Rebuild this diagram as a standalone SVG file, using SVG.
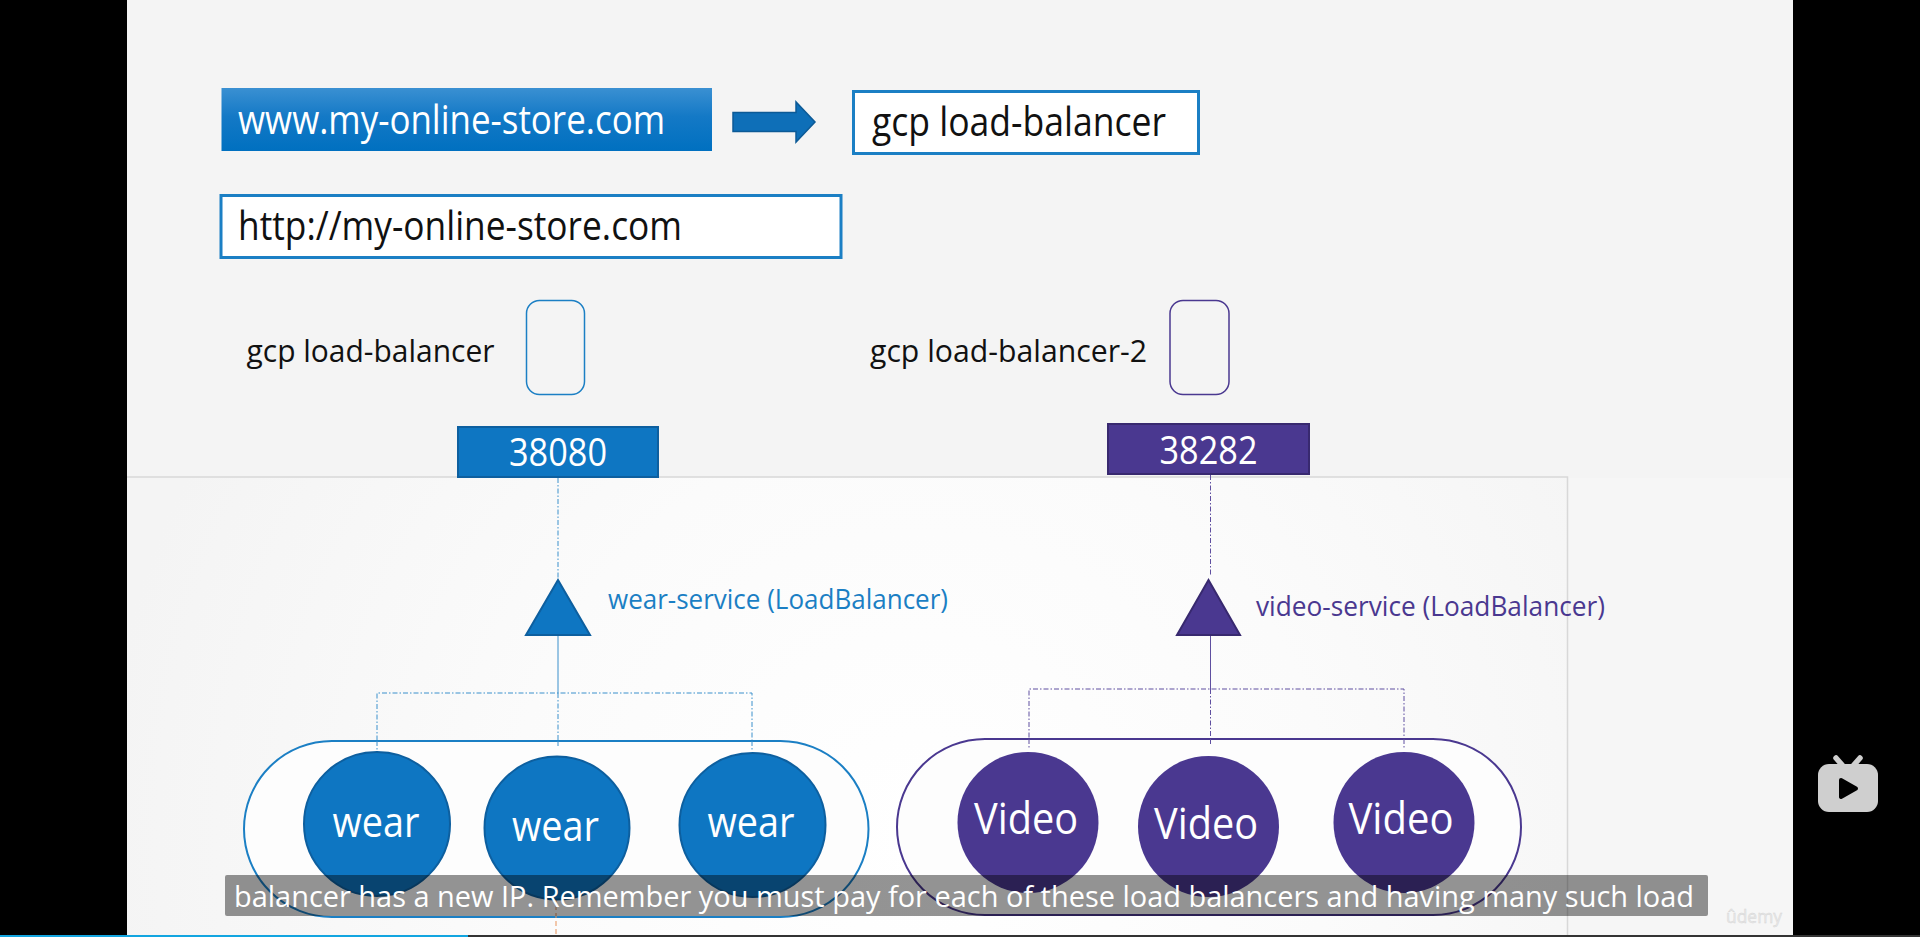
<svg xmlns="http://www.w3.org/2000/svg" width="1920" height="937" viewBox="0 0 1920 937">
<style>
text{font-family:"Open Sans","Noto Sans","Liberation Sans",sans-serif}
.wb{fill:#fff;stroke:#1b7fc4;stroke-width:3}
.blue{fill:#0e76c2;stroke:#0d5f9f;stroke-width:2}
.purple{fill:#4a3890;stroke:#38296f;stroke-width:2}
.pc{fill:#4a3890}
.bl{stroke:#3b90cc;stroke-width:1;fill:none}
.pl{stroke:#5f4fa0;stroke-width:1;fill:none}
.dd{stroke-dasharray:5 2 1.500 2}
.pill{fill:#fdfdfd;stroke-width:2}
.k{fill:#111}
.w{fill:#fff}
</style>
<defs>
<linearGradient id="gb" x1="0" y1="0" x2="0" y2="1"><stop offset="0" stop-color="#3a90d2"/><stop offset=".45" stop-color="#1479c6"/><stop offset="1" stop-color="#0070c0"/></linearGradient>
<radialGradient id="panel" gradientUnits="userSpaceOnUse" cx="920" cy="840" r="820"><stop offset="0" stop-color="#fff"/><stop offset=".5" stop-color="#fbfbfb"/><stop offset="1" stop-color="#f4f4f4"/></radialGradient>
</defs>
<rect width="1920" height="937" fill="#000"/>
<rect x="127" y="0" width="1666" height="937" fill="#f4f4f4"/>
<rect x="127" y="477" width="1440" height="460" fill="url(#panel)"/>
<rect x="1567.500" y="478" width="225.500" height="459" fill="#f6f6f6"/>
<path d="M127 477H1567.500V937" fill="none" stroke="#d8d8d8" stroke-width="1.500"/>

<g id="connectors">
<path class="bl dd" d="M558 478V579"/>
<path class="bl" d="M558 636V693"/>
<path class="bl dd" d="M377 751V693H752V751M558 693V748"/>
<path class="pl dd" d="M1210.500 475V575"/>
<path class="pl" d="M1210.500 636V689"/>
<path class="pl dd" d="M1029 748V689H1404V748M1210.500 689V744"/>
</g>

<g id="dns-box"><rect x="221.500" y="88" width="490.500" height="63" fill="url(#gb)"/><text class="w" x="238" y="134" font-size="40" textLength="427" lengthAdjust="spacingAndGlyphs">www.my-online-store.com</text></g>
<g id="arrow-node"><path d="M733 112.500H796V102L815 122L796 142V131.500H733Z" fill="#0e6fb8" stroke="#0c5a96" stroke-width="1.500"/></g>
<g id="gcp-box"><rect class="wb" x="853.500" y="91.500" width="345" height="62"/><text class="k" x="872" y="136" font-size="40" textLength="294" lengthAdjust="spacingAndGlyphs">gcp load-balancer</text></g>
<g id="http-box"><rect class="wb" x="221" y="195.500" width="620" height="62"/><text class="k" x="238" y="240" font-size="40" textLength="444" lengthAdjust="spacingAndGlyphs">http://my-online-store.com</text></g>

<g id="lb-1"><text class="k" x="246.500" y="362" font-size="31" textLength="248" lengthAdjust="spacingAndGlyphs">gcp load-balancer</text><rect x="526.500" y="300.500" width="58" height="94" rx="13" fill="none" stroke="#1b7fc4" stroke-width="1.500"/></g>
<g id="lb-2"><text class="k" x="870" y="362" font-size="31" textLength="277" lengthAdjust="spacingAndGlyphs">gcp load-balancer-2</text><rect x="1170" y="300.500" width="59" height="94" rx="13" fill="none" stroke="#4a3890" stroke-width="1.500"/></g>

<g id="port-38080"><rect class="blue" x="458" y="427" width="200" height="50"/><text class="w" x="558" y="466" font-size="38" text-anchor="middle" textLength="98" lengthAdjust="spacingAndGlyphs">38080</text></g>
<g id="port-38282"><rect class="purple" x="1108" y="424" width="201" height="50"/><text class="w" x="1208.500" y="463.500" font-size="38" text-anchor="middle" textLength="98" lengthAdjust="spacingAndGlyphs">38282</text></g>

<g id="wear-service"><path class="blue" d="M558 580L590 635H526Z"/><text x="608" y="608.500" font-size="27" fill="#1b7fc4" textLength="340" lengthAdjust="spacingAndGlyphs">wear-service (LoadBalancer)</text></g>
<g id="video-service"><path class="purple" d="M1208.500 580L1240 635H1177Z"/><text x="1256" y="615.500" font-size="27" fill="#4a3890" textLength="349" lengthAdjust="spacingAndGlyphs">video-service (LoadBalancer)</text></g>

<g id="wear-group"><rect class="pill" x="244" y="741" width="624.500" height="176" rx="88" stroke="#1b7fc4"/></g>
<g id="video-group"><rect class="pill" x="897" y="739" width="624" height="176" rx="88" stroke="#4a3890"/></g>
<path d="M556 841V937" fill="none" stroke="#e8935a" stroke-width="1" stroke-dasharray="5 3"/>
<path class="bl dd" d="M377 741V751M752 741V751M558 741V748"/>
<path class="pl dd" d="M1029 739V748M1404 739V748M1210.500 739V744"/>

<g id="wear-1"><ellipse class="blue" cx="377" cy="824" rx="73" ry="72"/><text class="w" x="376" y="836.500" font-size="42" text-anchor="middle" textLength="87" lengthAdjust="spacingAndGlyphs">wear</text></g>
<g id="wear-2"><ellipse class="blue" cx="557" cy="828" rx="72.500" ry="71.500"/><text class="w" x="555.500" y="841" font-size="42" text-anchor="middle" textLength="87" lengthAdjust="spacingAndGlyphs">wear</text></g>
<g id="wear-3"><ellipse class="blue" cx="752.500" cy="825" rx="73" ry="72"/><text class="w" x="751" y="836.500" font-size="42" text-anchor="middle" textLength="87" lengthAdjust="spacingAndGlyphs">wear</text></g>
<g id="video-1"><circle class="pc" cx="1028" cy="822.500" r="70.500"/><text class="w" x="1026" y="834" font-size="44" text-anchor="middle" textLength="104" lengthAdjust="spacingAndGlyphs">Video</text></g>
<g id="video-2"><circle class="pc" cx="1208.500" cy="826.500" r="70.500"/><text class="w" x="1206" y="839" font-size="44" text-anchor="middle" textLength="104" lengthAdjust="spacingAndGlyphs">Video</text></g>
<g id="video-3"><circle class="pc" cx="1404" cy="822.500" r="70.500"/><text class="w" x="1401" y="834" font-size="44" text-anchor="middle" textLength="105" lengthAdjust="spacingAndGlyphs">Video</text></g>

<g id="caption"><rect x="225" y="875" width="1483" height="41" rx="2" fill="#000" fill-opacity=".42"/><text class="w" x="234" y="907" font-size="29" textLength="1460" lengthAdjust="spacingAndGlyphs">balancer has a new IP. Remember you must pay for each of these load balancers and having many such load</text></g>
<g id="watermark"><text x="1726" y="923" font-size="19" fill="#e8e8e8" stroke="#d4d4d4" stroke-width=".4" textLength="56" lengthAdjust="spacingAndGlyphs">ûdemy</text></g>

<g id="tv-icon">
<path d="M1836 758L1843 766M1860 758L1853 766" stroke="#cfcfcf" stroke-width="5.500" stroke-linecap="round" fill="none"/>
<rect x="1818" y="764" width="60" height="48" rx="11" fill="#cfcfcf"/>
<path d="M1841 780L1856 788.500L1841 797Z" fill="#000" stroke="#000" stroke-width="4" stroke-linejoin="round"/>
</g>
<g id="progress"><rect x="0" y="935" width="1920" height="2" fill="#333"/><rect x="0" y="935" width="468" height="2" fill="#12a5e0"/></g>
</svg>
